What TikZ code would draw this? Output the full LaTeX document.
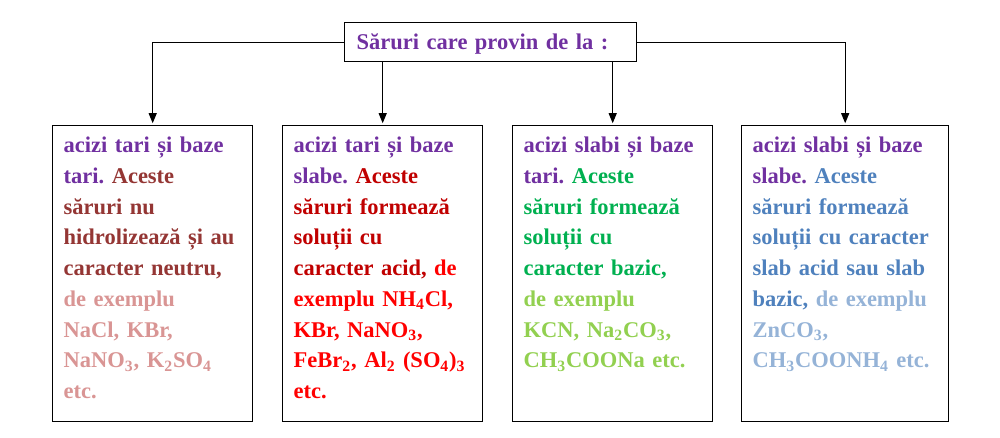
\documentclass[tikz,border=0pt]{standalone}
\usepackage{fontspec}
\setmainfont{Liberation Serif}
\usetikzlibrary{positioning,arrows.meta,calc}
\definecolor{saltpurple}{HTML}{7030A0}
\definecolor{neutraldark}{HTML}{943634}
\definecolor{neutrallight}{HTML}{D99594}
\definecolor{aciddark}{HTML}{C00000}
\definecolor{acidlight}{HTML}{FF0000}
\definecolor{basicdark}{HTML}{00B050}
\definecolor{basiclight}{HTML}{92D050}
\definecolor{weakdark}{HTML}{4F81BD}
\definecolor{weaklight}{HTML}{95B3D7}
\frenchspacing
\tikzset{
    every node/.style={font=\fontsize{12.8}{17.5}\selectfont\bfseries},
    titlebox/.style={draw,line width=0.8pt,text width=5.36cm,align=left,inner xsep=0.24cm,inner ysep=0.16cm,
        text height=0.38cm,text depth=0.08cm,anchor=north west,text=saltpurple},
    saltbox/.style={draw,line width=0.8pt,text width=3.56cm,align=left,inner xsep=0.22cm,inner ysep=0.16cm,
        text height=0.38cm,text depth=5.22cm,anchor=north west},
    link/.style={draw,line width=0.6pt,-{Triangle[length=0.2cm,width=0.16cm]},shorten >=1pt}
}
\begin{document}
\begin{tikzpicture}[x=0.02cm,y=-0.02cm]
\useasboundingbox (0,0) rectangle (1000,438);
\node[titlebox] (top) at (344,22) {Săruri care provin de la :};
\node[saltbox] (b1) at (52,125) {\color{saltpurple}acizi tari și baze\\
    tari. \color{neutraldark}Aceste\\
    săruri nu\\
    hidrolizează și au\\
    caracter neutru,\\
    \color{neutrallight}de exemplu\\
    NaCl, KBr,\\
    NaNO\textsubscript{3}, K\textsubscript{2}SO\textsubscript{4}\\
    etc.};
\node[saltbox] (b2) at (282,125) {\color{saltpurple}acizi tari și baze\\
    slabe. \color{aciddark}Aceste\\
    săruri formează\\
    soluții cu\\
    caracter acid, \color{acidlight}de\\
    exemplu NH\textsubscript{4}Cl,\\
    KBr, NaNO\textsubscript{3},\\
    FeBr\textsubscript{2}, Al\textsubscript{2} (SO\textsubscript{4})\textsubscript{3}\\
    etc.};
\node[saltbox] (b3) at (512,125) {\color{saltpurple}acizi slabi și baze\\
    tari. \color{basicdark}Aceste\\
    săruri formează\\
    soluții cu\\
    caracter bazic,\\
    \color{basiclight}de exemplu\\
    KCN, Na\textsubscript{2}CO\textsubscript{3},\\
    CH\textsubscript{3}COONa etc.};
\node[saltbox,text width=3.7cm] (b4) at (741,125) {\color{saltpurple}acizi slabi și baze\\
    slabe. \color{weakdark}Aceste\\
    săruri formează\\
    soluții cu caracter\\
    slab acid sau slab\\
    bazic, \color{weaklight}de exemplu\\
    ZnCO\textsubscript{3},\\
    CH\textsubscript{3}COONH\textsubscript{4} etc.};
\draw[link] (top.west) -| (b1.north);
\draw[link] (top.south -| b2.north) -- (b2.north);
\draw[link] (top.south -| b3.north) -- (b3.north);
\draw[link] (top.east) -| (b4.north);
\end{tikzpicture}
\end{document}
